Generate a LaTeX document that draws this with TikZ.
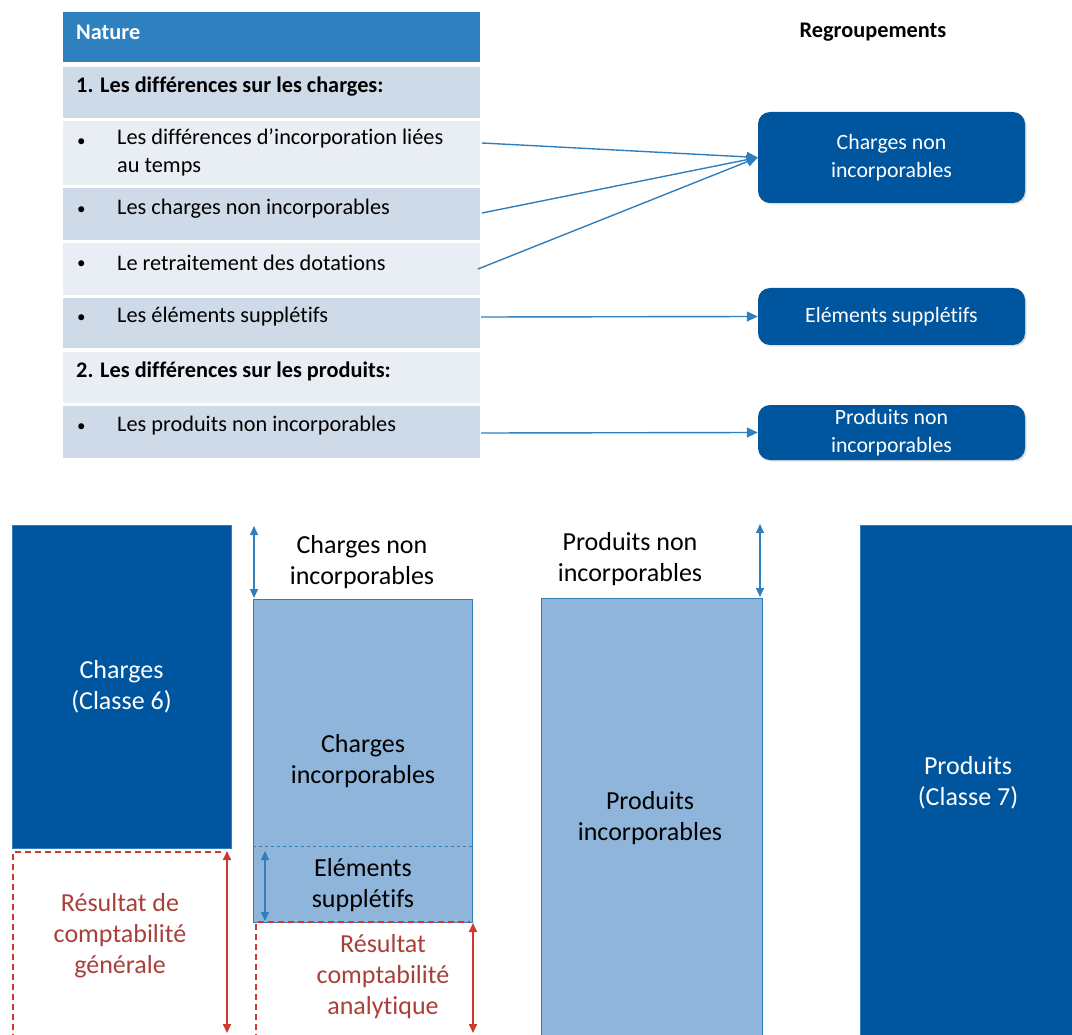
\documentclass[tikz,border=0pt]{standalone}
\usepackage{fontspec}
\setmainfont{Carlito}[Ligatures=NoCommon]
\usetikzlibrary{arrows.meta,shadows}
\definecolor{hdrblue}{HTML}{2F80BE}
\definecolor{rowdark}{HTML}{CFDAE9}
\definecolor{rowlight}{HTML}{E9EEF5}
\definecolor{darkblue}{HTML}{00559F}
\definecolor{lightfill}{HTML}{8FB5DA}
\definecolor{lineblue}{HTML}{2F7FBE}
\definecolor{redline}{HTML}{D0392E}
\definecolor{redtext}{HTML}{A8403A}
\tikzset{
  row/.style={draw=none,minimum width=417pt,anchor=north west,inner sep=0pt},
  rowtxt/.style={anchor=west,inner sep=0pt,font=\fontsize{22.3}{28}\selectfont,align=left},
  bul/.style={anchor=west,inner sep=0pt,font=\fontsize{17}{20}\selectfont},
  rowbold/.style={anchor=west,inner sep=0pt,font=\fontsize{22.3}{28}\selectfont\bfseries},
  grp/.style={draw=none,fill=darkblue,rounded corners=12pt,minimum width=267pt,inner sep=0pt,
    text=white,align=center,font=\fontsize{21.8}{28}\selectfont,
    drop shadow={shadow xshift=1.5pt,shadow yshift=-1.5pt,opacity=0.25}},
  conn/.style={draw=lineblue,line width=1.4pt,-{Triangle[length=11pt,width=10pt]}},
  bigtxt/.style={font=\fontsize{26}{31}\selectfont,align=center,inner sep=0pt},
  dim/.style={draw=lineblue,line width=1.4pt,{Triangle[length=9pt,width=8pt]}-{Triangle[length=9pt,width=8pt]}},
  reddim/.style={draw=redline,line width=1.6pt,{Triangle[length=9pt,width=8pt]}-{Triangle[length=9pt,width=8pt]}},
  reddash/.style={draw=redline,line width=1.3pt,dash pattern=on 6pt off 4pt},
}
\begin{document}
\begin{tikzpicture}[x=1pt,y=-1pt]
\useasboundingbox (0,0) rectangle (1072,1035);
\begin{scope}
\clip (0,0) rectangle (1072,1035);
% table
\node[row,fill=hdrblue,minimum height=50pt] (hdr) at (63,12) {};
\node[row,fill=rowdark,minimum height=51pt] (r1) at (63,67) {};
\node[row,fill=rowlight,minimum height=64pt] (r2) at (63,121) {};
\node[row,fill=rowdark,minimum height=52pt] (r3) at (63,188) {};
\node[row,fill=rowlight,minimum height=52pt] (r4) at (63,243) {};
\node[row,fill=rowdark,minimum height=50pt] (r5) at (63,298) {};
\node[row,fill=rowlight,minimum height=51pt] (r6) at (63,352) {};
\node[row,fill=rowdark,minimum height=52pt] (r7) at (63,406) {};

\node[rowbold,text=white] (thdr) at (76,32) {Nature};
\node[rowbold] (t1) at (76,87) {1. Les différences sur les charges:};
\node[bul] (b2) at (77,143) {•};
\node[rowtxt,anchor=north west] (t2) at (117,129) {Les différences d’incorporation liées\\au temps};
\node[bul] (b3) at (77,211) {•};
\node[rowtxt] (t3) at (117,209) {Les charges non incorporables};
\node[bul] (b4) at (77,265) {•};
\node[rowtxt] (t4) at (117,263) {Le retraitement des dotations};
\node[bul] (b5) at (77,319) {•};
\node[rowtxt] (t5) at (117,317) {Les éléments supplétifs};
\node[rowbold] (t6) at (76,371) {2. Les différences sur les produits:};
\node[bul] (b7) at (77,428) {•};
\node[rowtxt] (t7) at (117,426) {Les produits non incorporables};

\node[font=\fontsize{22.3}{28}\selectfont\bfseries,inner sep=0pt] (regr) at (873,32) {Regroupements};

% group boxes
\node[grp,minimum height=91pt] (g1) at (891.5,157.5) {Charges non\\incorporables};
\node[grp,minimum height=57pt] (g2) at (891.5,316.5) {Eléments supplétifs};
\node[grp,minimum height=55pt] (g3) at (891.5,432.5) {Produits non\\incorporables};

\coordinate (s2) at (482,143);
\coordinate (s3) at (482,213);
\coordinate (s4) at (478,269);
\coordinate (s5) at (481,317);
\coordinate (s7) at (481,433);
\draw[conn] (s2) -- (g1.west);
\draw[conn] (s3) -- (g1.west);
\draw[conn] (s4) -- (g1.west);
\draw[conn] (s5) -- (g2.west);
\draw[conn] (s7) -- (g3.west);

% bottom part
\node[draw=lineblue,line width=0.8pt,fill=darkblue,anchor=north west,minimum width=219pt,minimum height=323pt,inner sep=0pt] (ch6) at (12,525) {};
\node[bigtxt,text=white] (ch6t) at (121.5,687) {Charges\\(Classe 6)};

\node[draw=lineblue,line width=1pt,fill=lightfill,anchor=north west,minimum width=219pt,minimum height=323pt,inner sep=0pt] (cinc) at (253,599) {};
\draw[draw=lineblue,line width=1pt,dashed] (cinc.west |- 0,846) coordinate (dl) -- (cinc.east |- 0,846) coordinate (dr);
\node[bigtxt] (cinct) at (363,761) {Charges\\incorporables};
\node[bigtxt] (elt) at (363,885) {Eléments\\supplétifs};
\coordinate (ea) at (265,851);
\coordinate (eb) at (265,921);
\draw[dim] (ea) -- (eb);

\coordinate (cna) at (254,526);
\coordinate (cnb) at (254,598);
\draw[dim] (cna) -- (cnb);
\node[bigtxt] (cnt) at (362,562) {Charges non\\incorporables};

\node[draw=lineblue,line width=1pt,fill=lightfill,anchor=north west,minimum width=221pt,minimum height=460pt,inner sep=0pt] (pinc) at (541,598) {};
\node[bigtxt] (pinct) at (650,818) {Produits\\incorporables};
\coordinate (pna) at (760,524);
\coordinate (pnb) at (760,597);
\draw[dim] (pna) -- (pnb);
\node[bigtxt] (pnt) at (630,559) {Produits non\\incorporables};

\node[draw=lineblue,line width=0.8pt,fill=darkblue,anchor=north west,minimum width=214pt,minimum height=530pt,inner sep=0pt] (p7) at (860,525) {};
\node[bigtxt,text=white] (p7t) at (968,783) {Produits\\(Classe 7)};

% red result areas
\coordinate (rg1) at (13,1040);
\coordinate (rg2) at (13,852);
\coordinate (rg3) at (222,852);
\draw[reddash] (rg1) -- (rg2) -- (rg3);
\coordinate (ra1) at (227,851);
\coordinate (ra2) at (227,1033);
\draw[reddim] (ra1) -- (ra2);
\node[bigtxt,text=redtext] (rgt) at (120,936) {Résultat de\\comptabilité\\générale};

\coordinate (rc1) at (256,1040);
\coordinate (rc2) at (256,922);
\coordinate (rc3) at (470,922);
\draw[reddash] (rc1) -- (rc2) -- (rc3);
\coordinate (rb1) at (473,923);
\coordinate (rb2) at (473,1033);
\draw[reddim] (rb1) -- (rb2);
\node[bigtxt,text=redtext] (rct) at (383,977) {Résultat\\comptabilité\\analytique};
\end{scope}
\end{tikzpicture}
\end{document}
